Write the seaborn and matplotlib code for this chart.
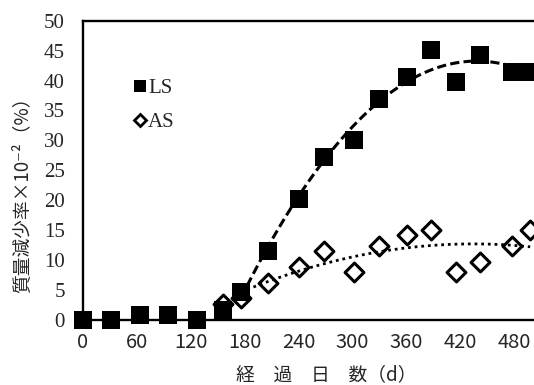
import matplotlib
matplotlib.use("Agg")
import matplotlib.pyplot as plt
from matplotlib.lines import Line2D
import seaborn as sns
import pandas as pd

# ---- data ----
days = [0, 31, 63, 95, 127, 156, 176, 206, 240, 268, 302, 330, 361, 387, 415, 442, 478, 498]
ls_values = [0.0, 0.0, 0.9, 0.9, 0.0, 1.7, 4.6, 11.6, 20.2, 27.3, 30.1, 37.0, 40.6, 45.1, 39.8, 44.3, 41.5, 41.5]
as_days = [156, 176, 206, 240, 268, 302, 330, 361, 387, 415, 442, 478, 498]
as_values = [2.7, 3.6, 6.2, 8.9, 11.6, 8.1, 12.4, 14.2, 15.0, 8.1, 9.7, 12.4, 15.0]
x_ticks = [0, 60, 120, 180, 240, 300, 360, 420, 480]
y_ticks = [0, 5, 10, 15, 20, 25, 30, 35, 40, 45, 50]
series_labels = ["LS", "AS"]
fit_start = 176

ls_df = pd.DataFrame({"day": days, "value": ls_values})
as_df = pd.DataFrame({"day": as_days, "value": as_values})

sns.set_style("white")
plt.rcParams["font.family"] = ["Noto Sans CJK JP", "DejaVu Sans"]

W, H = 534, 385
fig = plt.figure(figsize=(W / 100, H / 100), dpi=100)
left, right, top, bottom = 83, 534, 20.7, 320
ax = fig.add_axes([left / W, 1 - bottom / H, (right - left) / W, (bottom - top) / H])

# markers
sns.scatterplot(data=as_df, x="day", y="value", marker="D", s=92, facecolor="white",
                edgecolor="black", linewidth=2.2, ax=ax, clip_on=False, zorder=3, legend=False)
sns.scatterplot(data=ls_df, x="day", y="value", marker="s", s=150, color="black",
                edgecolor="black", linewidth=0, ax=ax, clip_on=False, zorder=4, legend=False)

# polynomial trend lines
sns.regplot(data=ls_df[ls_df.day >= fit_start], x="day", y="value", order=2, ci=None,
            scatter=False, ax=ax, truncate=True,
            line_kws=dict(color="black", lw=2.2, ls=(0, (3, 1.4)), zorder=5))
sns.regplot(data=as_df[as_df.day >= fit_start], x="day", y="value", order=2, ci=None,
            scatter=False, ax=ax, truncate=True,
            line_kws=dict(color="black", lw=2.0, ls=(0, (1, 1.4)), zorder=5))

ax.set_xlim(0, (right - left) / 0.898)
ax.set_ylim(0, 50)
ax.set_xticks(x_ticks)
ax.set_yticks(y_ticks)
ax.set_xticklabels([str(t) for t in x_ticks], fontsize=14.5, family=["Noto Sans CJK JP"])
ax.set_yticklabels([str(t) for t in y_ticks], fontsize=15, family=["Liberation Serif"])
ax.tick_params(axis="both", length=0)
ax.tick_params(axis="y", pad=13)
ax.tick_params(axis="x", pad=9)
ax.set_xlabel("")
ax.set_ylabel("")

for s in ["left", "top", "bottom"]:
    ax.spines[s].set_visible(True)
    ax.spines[s].set_color("black")
    ax.spines[s].set_linewidth(1.7)
ax.spines["right"].set_visible(False)

# legend
handles = [
    Line2D([], [], marker="s", ls="none", color="black", markersize=8.5, markeredgewidth=0),
    Line2D([], [], marker="D", ls="none", markerfacecolor="white", markeredgecolor="black",
           markersize=6, markeredgewidth=2),
]
ax.legend(handles, series_labels, loc="upper left", bbox_to_anchor=(0.095, 0.835),
          frameon=False, prop={"family": "Liberation Serif", "size": 15},
          handlelength=0.55, handletextpad=0.12, labelspacing=0.7, borderaxespad=0)

fig.text(22.5 / W, 1 - 190 / H, "質量減少率×10⁻²（%）", rotation=90, ha="center", va="center",
         fontsize=13.5, family=["Noto Sans CJK JP", "DejaVu Sans"])
fig.text(326.5 / W, 1 - 375 / H, "経　過　日　数（d）", ha="center", va="center",
         fontsize=13.5, family=["Noto Sans CJK JP", "DejaVu Sans"])

fig.savefig("out.png", dpi=100)
